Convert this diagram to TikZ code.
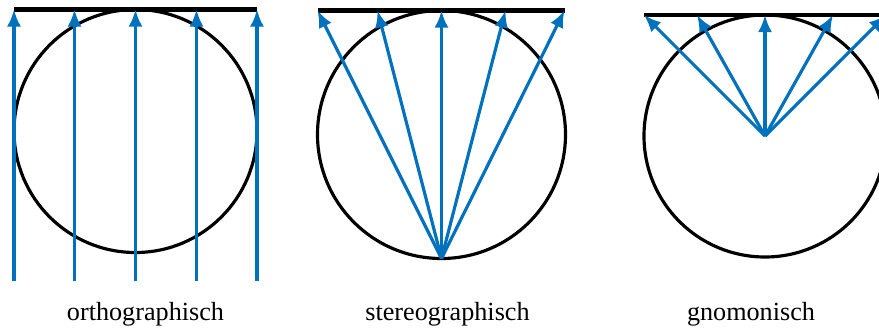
\documentclass[tikz,border=0pt]{standalone}
\usepackage{fontspec}
\setmainfont{Liberation Serif}
\usetikzlibrary{arrows.meta,calc}
\definecolor{cRay}{HTML}{0072BD}
\definecolor{cLine}{HTML}{000000}
\tikzset{
  globe/.style = {circle, draw=cLine, line width=1.8pt, outer sep=0pt,
                  inner sep=0pt, minimum size=#1},
  plane/.style = {draw=cLine, line width=2.3pt},
  ray/.style   = {-{Latex[length=0.34cm,width=0.28cm]}, draw=cRay, line width=1.8pt},
  lbl/.style   = {font=\fontsize{14.9}{17}\selectfont, anchor=base, inner sep=0pt},
}
\begin{document}
\begin{tikzpicture}
      \useasboundingbox (0,0) rectangle (17.58,6.54);

      % ---- ORTHOGRAPHIC ----
      \node[globe=4.86cm] (k1) at (2.71,3.92) {};
      \coordinate (o1) at ($(k1.north)+(-2.43,0)$);
      \coordinate (o2) at ($(k1.north)+(-1.22,0)$);
      \coordinate (o3) at (k1.north);
      \coordinate (o4) at ($(k1.north)+(1.22,0)$);
      \coordinate (o5) at ($(k1.north)+(2.43,0)$);
      \coordinate (u1) at ($(k1.center)+(-2.43,-3.0)$);
      \coordinate (u2) at ($(k1.center)+(-1.22,-3.0)$);
      \coordinate (u3) at ($(k1.center)+(0,-3.0)$);
      \coordinate (u4) at ($(k1.center)+(1.22,-3.0)$);
      \coordinate (u5) at ($(k1.center)+(2.43,-3.0)$);
      \draw[plane] (o1) -- (o5);
      \draw[ray] (u1) -- (o1);
      \draw[ray] (u2) -- (o2);
      \draw[ray] (u3) -- (o3);
      \draw[ray] (u4) -- (o4);
      \draw[ray] (u5) -- (o5);
      \node[lbl] (n1) at (2.91,0.14) {orthographisch};

      % ---- STEREOGRAPHIC ----
      \node[globe=4.96cm] (k2) at (8.83,3.85) {};
      \coordinate (s1) at ($(k2.north)+(-2.48,0)$);
      \coordinate (s2) at ($(k2.north)+(-1.28,0)$);
      \coordinate (s3) at (k2.north);
      \coordinate (s4) at ($(k2.north)+(1.28,0)$);
      \coordinate (s5) at ($(k2.north)+(2.46,0)$);
      \draw[plane] (s1) -- (s5);
      \draw[ray] (k2.south) -- (s1);
      \draw[ray] (k2.south) -- (s2);
      \draw[ray] (k2.south) -- (s3);
      \draw[ray] (k2.south) -- (s4);
      \draw[ray] (k2.south) -- (s5);
      \node[lbl] (n2) at (8.95,0.14) {stereographisch};

      % ---- GNOMONIC ----
      \node[globe=4.84cm] (k3) at (15.3,3.82) {};
      \coordinate (g1) at ($(k3.north)+(-2.42,0)$);
      \coordinate (g2) at ($(k3.north)+(-1.36,0)$);
      \coordinate (g3) at (k3.north);
      \coordinate (g4) at ($(k3.north)+(1.36,0)$);
      \coordinate (g5) at ($(k3.north)+(2.42,0)$);
      \draw[plane] (g1) -- (g5);
      \draw[ray] (k3.center) -- (g1);
      \draw[ray] (k3.center) -- (g2);
      \draw[ray] (k3.center) -- (g3);
      \draw[ray] (k3.center) -- (g4);
      \draw[ray] (k3.center) -- (g5);
      \node[lbl] (n3) at (15.02,0.14) {gnomonisch};
\end{tikzpicture}
\end{document}
